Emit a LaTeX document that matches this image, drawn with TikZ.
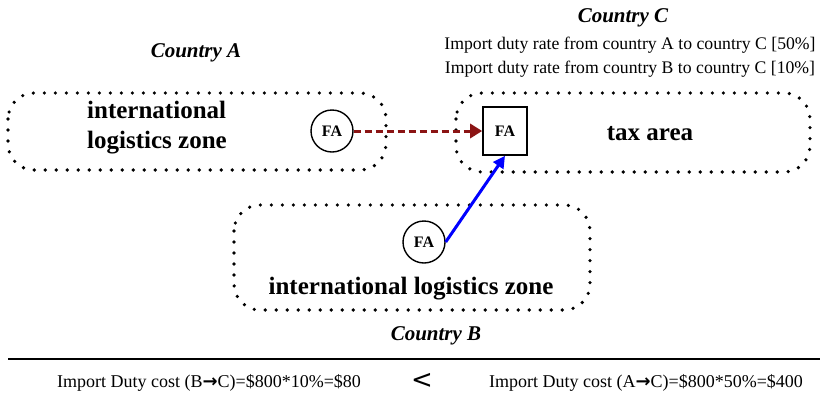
\documentclass[tikz,border=0pt]{standalone}
\usepackage{fontspec}
\setmainfont{Liberation Serif}
\usetikzlibrary{arrows.meta}
\begin{document}
\begin{tikzpicture}[x=1pt,y=-1pt,
  zone/.style={draw,line width=3.6pt,line cap=round,dash pattern=on 0pt off 11pt,rounded corners=26pt},
  fa/.style={draw,line width=1.4pt,circle,minimum size=42pt,inner sep=0pt,font=\bfseries\fontsize{16}{18}\selectfont},
  fabox/.style={draw,line width=1.6pt,minimum width=44pt,minimum height=48pt,inner sep=0pt,font=\bfseries\fontsize{16}{18}\selectfont},
  country/.style={font=\bfseries\itshape\fontsize{21}{24}\selectfont},
  zonelabel/.style={font=\bfseries\fontsize{25}{30}\selectfont},
  rate/.style={font=\fontsize{17.7}{20}\selectfont},
  cost/.style={font=\fontsize{18}{20}\selectfont}]
\useasboundingbox (0,0) rectangle (820,397);

% zones
\draw[zone] (8,93) rectangle (386,170);
\draw[zone] (456,93) rectangle (810,172);
\draw[zone] (234,205) rectangle (590,310);

% labels of the countries
\node[country] (ca) at (196,53) {Country A};
\node[country] (cc) at (623,18) {Country C};
\node[country] (cb) at (436,336) {Country B};
\node[rate] (r1) at (630,45) {Import duty rate from country A to country C [50\%]};
\node[rate] (r2) at (630,69) {Import duty rate from country B to country C [10\%]};

% zone texts
\node[zonelabel,align=left] (za) at (157,128) {international\\logistics zone};
\node[zonelabel] (tax) at (650,134) {tax area};
\node[zonelabel] (zb) at (411,289) {international logistics zone};

% firms
\node[fa] (faA) at (332,131) {FA};
\node[fabox] (faC) at (505,131) {FA};
\node[fa] (faB) at (424,242) {FA};

% flows
\draw[line width=3pt,dash pattern=on 7pt off 4pt,draw={rgb,255:red,139;green,20;blue,20},
  -{Triangle[length=12pt,width=14pt,fill={rgb,255:red,139;green,20;blue,20}]}] (faA) -- (faC);
\draw[line width=3pt,blue,-{Triangle[length=12pt,width=12pt]}] (faB.east) -- (faC.south);

% comparison of duty costs
\coordinate (l1) at (8,359);
\coordinate (l2) at (820,359);
\draw[line width=2.5pt] (l1) -- (l2);
\node[cost] (costB) at (209,383) {Import Duty cost (B{\fontspec{DejaVu Sans}\bfseries →}C)=\$800*10\%=\$80};
\node[font=\fontspec{DejaVu Sans}\fontsize{26}{28}\selectfont] (lt) at (422,381) {<};
\node[cost] (costA) at (646,383) {Import Duty cost (A{\fontspec{DejaVu Sans}\bfseries →}C)=\$800*50\%=\$400};
\end{tikzpicture}
\end{document}
